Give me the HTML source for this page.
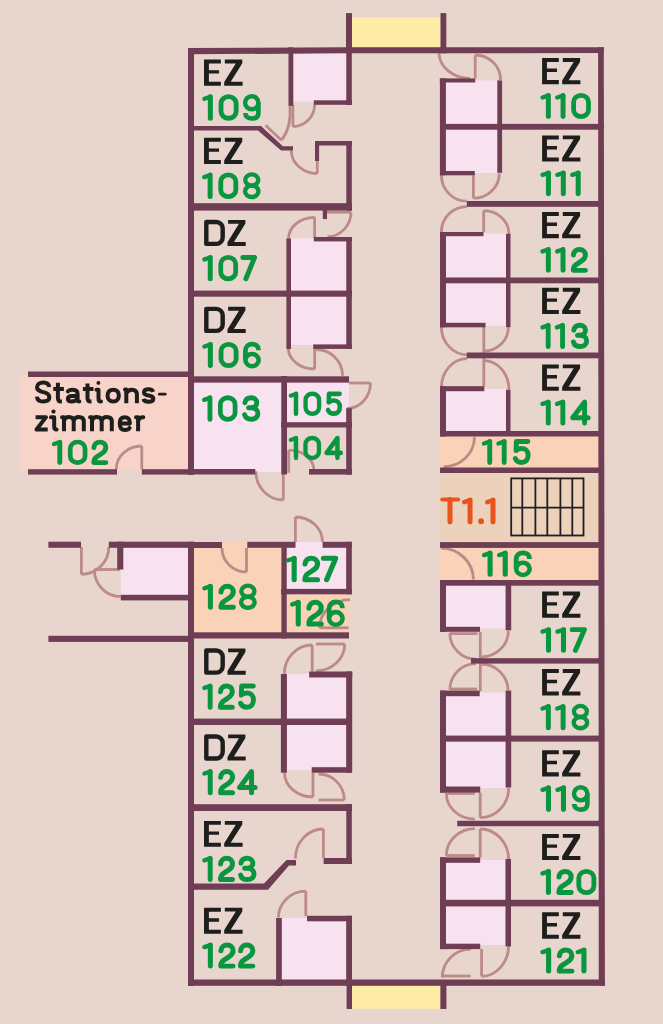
<!DOCTYPE html>
<html><head><meta charset="utf-8"><style>
html,body{margin:0;padding:0;background:#e8d5ce;overflow:hidden;}
svg{display:block;will-change:transform;}
</style></head><body>
<svg width="663" height="1024" viewBox="0 0 663 1024">
<rect x="0" y="0" width="663" height="1024" fill="#e8d5ce"/>
<rect x="352.00" y="17.40" width="88.50" height="30.10" fill="#fdeba6"/>
<rect x="352.00" y="985.80" width="88.40" height="23.00" fill="#fdeba6"/>
<rect x="19.40" y="374.80" width="169.10" height="94.70" fill="#f8d3ca"/>
<rect x="293.00" y="53.00" width="53.30" height="48.50" fill="#f8e2f0"/>
<rect x="291.00" y="238.50" width="55.30" height="52.30" fill="#f8e2f0"/>
<rect x="291.00" y="296.50" width="55.30" height="48.50" fill="#f8e2f0"/>
<rect x="194.00" y="382.60" width="87.50" height="86.70" fill="#f8e2f0"/>
<rect x="255.00" y="469.00" width="26.50" height="3.00" fill="#f8e2f0"/>
<rect x="287.00" y="382.60" width="59.20" height="39.80" fill="#f8e2f0"/>
<rect x="346.00" y="382.00" width="3.00" height="26.30" fill="#f8e2f0"/>
<rect x="286.70" y="542.00" width="59.50" height="47.00" fill="#f8e2f0"/>
<rect x="287.00" y="674.00" width="59.20" height="45.00" fill="#f8e2f0"/>
<rect x="287.00" y="725.00" width="59.20" height="45.00" fill="#f8e2f0"/>
<rect x="281.80" y="918.00" width="64.40" height="62.20" fill="#f8e2f0"/>
<rect x="120.80" y="547.80" width="67.20" height="47.20" fill="#f8e2f0"/>
<rect x="194.00" y="542.00" width="87.50" height="90.50" fill="#fad2b8"/>
<rect x="286.70" y="594.30" width="63.10" height="38.20" fill="#fad2b8"/>
<rect x="440.20" y="436.40" width="158.30" height="31.20" fill="#fad2b8"/>
<rect x="440.20" y="547.90" width="158.30" height="32.40" fill="#fad2b8"/>
<rect x="440.10" y="473.00" width="158.40" height="69.20" fill="#ecd2bb"/>
<rect x="446.00" y="80.50" width="51.50" height="43.70" fill="#f8e2f0"/>
<rect x="446.00" y="129.60" width="51.80" height="43.40" fill="#f8e2f0"/>
<rect x="446.00" y="233.50" width="60.20" height="44.10" fill="#f8e2f0"/>
<rect x="446.00" y="283.20" width="60.20" height="42.80" fill="#f8e2f0"/>
<rect x="446.00" y="389.00" width="60.20" height="42.00" fill="#f8e2f0"/>
<rect x="446.00" y="585.60" width="59.80" height="42.90" fill="#f8e2f0"/>
<rect x="446.00" y="692.40" width="59.80" height="43.30" fill="#f8e2f0"/>
<rect x="446.00" y="741.60" width="59.80" height="46.40" fill="#f8e2f0"/>
<rect x="446.00" y="860.00" width="59.70" height="39.90" fill="#f8e2f0"/>
<rect x="446.00" y="906.30" width="59.70" height="38.70" fill="#f8e2f0"/>
<g fill="none" stroke="#bc8b87" stroke-width="2.8">
<path d="M292.9,105 V126.7"/>
<path d="M292.9,126.7 A22 22 0 0 0 314.6,104.5"/>
<path d="M265.6,125.2 L281.4,140.2"/>
<path d="M281.4,140.2 C288,132 291,120 290,106"/>
<path d="M317.3,161 V173.4"/>
<path d="M291.3,150.5 A26 23 0 0 0 317.3,173.5"/>
<path d="M327,212.2 H351"/>
<path d="M351,212.2 A24 24.5 0 0 1 327.5,236.7"/>
<path d="M314.6,217.3 V238"/>
<path d="M314.6,217.3 A26 22 0 0 0 288.4,239.3"/>
<path d="M314.7,349 V369"/>
<path d="M314.7,369 A26.4 21 0 0 1 288.3,348"/>
<path d="M316.2,349.5 A26.4 26.2 0 0 1 342.6,375.7"/>
<path d="M349,383 H370.5"/>
<path d="M370.5,383 A23.5 25.5 0 0 1 347,408.5"/>
<path d="M288.7,450.2 V472.8"/>
<path d="M288.7,450.2 A25.2 20 0 0 1 313.9,470.2"/>
<path d="M283.3,474 V500"/>
<path d="M255.8,471.3 A27.5 28.7 0 0 0 283.3,500"/>
<path d="M141.8,446 V469"/>
<path d="M141.8,446 A25.5 23 0 0 0 116.3,469"/>
<path d="M81.4,547 V574.3"/>
<path d="M81.4,574.3 A27.4 27.3 0 0 0 108.8,547"/>
<path d="M94.3,569.5 H120"/>
<path d="M94.3,569.5 A26.5 27.2 0 0 0 120.8,596.7"/>
<path d="M246.5,548 V572"/>
<path d="M222,548 A24.5 24 0 0 0 246.5,572"/>
<path d="M295.4,517 V542"/>
<path d="M295.4,517 A27.1 25 0 0 1 322.5,542"/>
<path d="M319.6,627.8 H348.6"/>
<path d="M319.6,628 A30.4 28.3 0 0 1 350,599.7"/>
<path d="M312.2,645 V671.5"/>
<path d="M312.2,645 A27.9 28.7 0 0 0 284.3,673.7"/>
<path d="M316,644 H344.7"/>
<path d="M344.7,644 A28.7 27 0 0 1 316,671"/>
<path d="M313,772.7 V797"/>
<path d="M284.5,772.7 A28.5 24.3 0 0 0 313,797"/>
<path d="M318.5,800 H344.3"/>
<path d="M318.5,774 A25.8 26 0 0 1 344.3,800"/>
<path d="M323.4,829 V858"/>
<path d="M323.4,829 A28 29.5 0 0 0 295.4,858.5"/>
<path d="M305.8,891.2 V916"/>
<path d="M305.8,891.2 A27.4 26.4 0 0 0 278.4,917.6"/>
<path d="M439,52.7 A31 26 0 0 0 470,78.4"/>
<path d="M475.2,55 V78.4"/>
<path d="M475.2,55 A25.4 25 0 0 1 500.6,80"/>
<path d="M473.4,175.3 V198.2"/>
<path d="M499.3,173.4 A25.9 24.8 0 0 1 473.4,198.2"/>
<path d="M441.4,175.3 A25.4 26 0 0 0 466.8,201.2"/>
<path d="M466.8,206.6 A25.4 25.4 0 0 0 441.4,232"/>
<path d="M483.7,210.6 V232"/>
<path d="M483.7,210.6 A25.3 23.5 0 0 1 509,234"/>
<path d="M483.8,327 V386.2"/>
<path d="M508.4,327 A24.6 24.2 0 0 1 483.8,351.2"/>
<path d="M441.4,327 A26 27.8 0 0 0 467.4,354.8"/>
<path d="M467,358.7 A25.6 28.7 0 0 0 441.4,387.4"/>
<path d="M483.8,360.6 A25.2 29.2 0 0 1 509,389.8"/>
<path d="M474.5,436.9 A31 30 0 0 1 443.6,466.8"/>
<path d="M440.9,548.2 A32.5 31.3 0 0 1 473.4,579.5"/>
<path d="M480.3,632 V691.2"/>
<path d="M449.9,633.6 H477.6"/>
<path d="M449.9,633 A26 26 0 0 0 476,659.2"/>
<path d="M508.4,630.9 A27.2 26 0 0 1 481.2,656.8"/>
<path d="M449.9,689 H477"/>
<path d="M476,663.6 A26 26 0 0 0 449.9,689.6"/>
<path d="M481,664 A27 27 0 0 1 508.1,690.6"/>
<path d="M480.2,792.6 V817.7"/>
<path d="M508.7,788 A28.5 29.7 0 0 1 480.2,817.7"/>
<path d="M446.3,793.5 H474.8"/>
<path d="M446.3,793.3 A28.5 25.8 0 0 0 474.8,819.1"/>
<path d="M446.3,855.5 H474.8"/>
<path d="M474.8,828.6 A28.5 27.2 0 0 0 446.3,855.8"/>
<path d="M480.2,829 V857.4"/>
<path d="M480.2,829 A28.5 30.8 0 0 1 508.7,859.8"/>
<path d="M481.6,949 V976.3"/>
<path d="M508.7,945 A27.1 31.3 0 0 1 481.6,976.3"/>
<path d="M442.2,976 H470.7"/>
<path d="M470.7,949.1 A28.5 28.5 0 0 0 442.2,977.6"/>
</g>
<rect x="188.00" y="48.00" width="6.00" height="426.70" fill="#6f3e54"/>
<rect x="188.00" y="541.80" width="6.00" height="444.20" fill="#6f3e54"/>
<rect x="188.00" y="979.50" width="416.90" height="6.30" fill="#6f3e54"/>
<rect x="346.00" y="13.10" width="6.00" height="40.20" fill="#6f3e54"/>
<rect x="440.50" y="13.10" width="5.80" height="40.20" fill="#6f3e54"/>
<rect x="346.60" y="980.00" width="5.40" height="29.00" fill="#6f3e54"/>
<rect x="440.40" y="980.00" width="6.00" height="29.00" fill="#6f3e54"/>
<rect x="346.30" y="47.30" width="5.50" height="57.70" fill="#6f3e54"/>
<rect x="346.30" y="141.00" width="5.50" height="69.60" fill="#6f3e54"/>
<rect x="346.30" y="237.00" width="5.50" height="112.00" fill="#6f3e54"/>
<rect x="346.20" y="408.20" width="5.60" height="66.40" fill="#6f3e54"/>
<rect x="346.20" y="541.80" width="5.60" height="52.50" fill="#6f3e54"/>
<rect x="346.20" y="671.50" width="6.00" height="101.20" fill="#6f3e54"/>
<rect x="346.30" y="804.00" width="5.50" height="60.00" fill="#6f3e54"/>
<rect x="346.20" y="915.80" width="5.80" height="70.20" fill="#6f3e54"/>
<rect x="288.50" y="47.30" width="4.80" height="58.60" fill="#6f3e54"/>
<rect x="313.80" y="100.30" width="38.20" height="4.50" fill="#6f3e54"/>
<rect x="315.00" y="141.00" width="37.00" height="4.50" fill="#6f3e54"/>
<rect x="315.00" y="141.00" width="4.10" height="20.00" fill="#6f3e54"/>
<rect x="188.00" y="203.20" width="164.00" height="7.40" fill="#6f3e54"/>
<rect x="322.80" y="210.00" width="4.20" height="9.10" fill="#6f3e54"/>
<rect x="313.80" y="237.00" width="38.20" height="4.40" fill="#6f3e54"/>
<rect x="286.40" y="238.50" width="4.60" height="110.50" fill="#6f3e54"/>
<rect x="188.00" y="290.60" width="164.00" height="6.10" fill="#6f3e54"/>
<rect x="313.20" y="344.40" width="38.80" height="4.50" fill="#6f3e54"/>
<rect x="188.00" y="376.30" width="161.00" height="6.30" fill="#6f3e54"/>
<rect x="28.00" y="371.50" width="166.00" height="5.50" fill="#6f3e54"/>
<rect x="281.30" y="376.00" width="5.70" height="98.50" fill="#6f3e54"/>
<rect x="281.00" y="422.20" width="71.00" height="5.30" fill="#6f3e54"/>
<rect x="188.00" y="469.00" width="67.30" height="5.50" fill="#6f3e54"/>
<rect x="309.00" y="469.00" width="43.00" height="5.60" fill="#6f3e54"/>
<rect x="28.00" y="469.20" width="89.00" height="5.40" fill="#6f3e54"/>
<rect x="141.80" y="469.20" width="52.20" height="5.40" fill="#6f3e54"/>
<rect x="48.40" y="541.70" width="32.60" height="6.10" fill="#6f3e54"/>
<rect x="108.80" y="541.70" width="85.20" height="6.10" fill="#6f3e54"/>
<rect x="117.20" y="541.70" width="6.10" height="27.80" fill="#6f3e54"/>
<rect x="120.80" y="594.80" width="73.20" height="5.60" fill="#6f3e54"/>
<rect x="48.40" y="635.80" width="145.60" height="6.10" fill="#6f3e54"/>
<rect x="188.00" y="542.00" width="34.00" height="6.00" fill="#6f3e54"/>
<rect x="247.30" y="541.80" width="48.20" height="6.00" fill="#6f3e54"/>
<rect x="322.60" y="541.80" width="29.20" height="6.00" fill="#6f3e54"/>
<rect x="281.40" y="542.00" width="5.30" height="96.50" fill="#6f3e54"/>
<rect x="281.00" y="588.90" width="70.80" height="5.40" fill="#6f3e54"/>
<rect x="188.00" y="632.30" width="161.00" height="6.20" fill="#6f3e54"/>
<rect x="280.90" y="674.00" width="6.00" height="98.70" fill="#6f3e54"/>
<rect x="309.20" y="671.50" width="43.00" height="6.00" fill="#6f3e54"/>
<rect x="188.00" y="718.60" width="164.00" height="6.40" fill="#6f3e54"/>
<rect x="311.70" y="767.20" width="40.30" height="5.50" fill="#6f3e54"/>
<rect x="188.00" y="804.20" width="164.00" height="6.80" fill="#6f3e54"/>
<rect x="323.60" y="858.00" width="28.40" height="6.00" fill="#6f3e54"/>
<rect x="307.00" y="915.80" width="45.00" height="5.50" fill="#6f3e54"/>
<rect x="276.10" y="918.00" width="5.70" height="68.00" fill="#6f3e54"/>
<rect x="439.90" y="78.40" width="6.00" height="96.90" fill="#6f3e54"/>
<rect x="440.00" y="232.00" width="6.00" height="95.30" fill="#6f3e54"/>
<rect x="440.00" y="386.20" width="6.00" height="50.30" fill="#6f3e54"/>
<rect x="440.00" y="580.00" width="6.00" height="51.80" fill="#6f3e54"/>
<rect x="440.00" y="690.60" width="6.00" height="102.00" fill="#6f3e54"/>
<rect x="440.00" y="857.40" width="6.00" height="91.70" fill="#6f3e54"/>
<rect x="439.90" y="78.40" width="35.30" height="4.10" fill="#6f3e54"/>
<rect x="497.30" y="80.40" width="4.80" height="92.40" fill="#6f3e54"/>
<rect x="440.00" y="123.90" width="164.00" height="5.80" fill="#6f3e54"/>
<rect x="440.20" y="171.00" width="34.60" height="4.30" fill="#6f3e54"/>
<rect x="466.80" y="201.00" width="137.20" height="5.80" fill="#6f3e54"/>
<rect x="440.00" y="232.00" width="43.50" height="4.20" fill="#6f3e54"/>
<rect x="506.00" y="233.80" width="4.50" height="93.30" fill="#6f3e54"/>
<rect x="440.00" y="277.50" width="164.00" height="5.80" fill="#6f3e54"/>
<rect x="440.00" y="322.80" width="45.50" height="4.50" fill="#6f3e54"/>
<rect x="466.80" y="352.50" width="137.20" height="5.80" fill="#6f3e54"/>
<rect x="440.00" y="386.20" width="44.30" height="5.00" fill="#6f3e54"/>
<rect x="506.00" y="389.80" width="4.50" height="46.20" fill="#6f3e54"/>
<rect x="440.00" y="431.00" width="164.00" height="5.50" fill="#6f3e54"/>
<rect x="440.00" y="467.50" width="164.00" height="5.50" fill="#6f3e54"/>
<rect x="440.00" y="542.10" width="164.00" height="5.80" fill="#6f3e54"/>
<rect x="440.00" y="580.00" width="164.00" height="5.70" fill="#6f3e54"/>
<rect x="440.00" y="626.80" width="40.00" height="5.00" fill="#6f3e54"/>
<rect x="505.60" y="585.00" width="5.60" height="45.30" fill="#6f3e54"/>
<rect x="471.00" y="658.20" width="133.00" height="5.40" fill="#6f3e54"/>
<rect x="440.00" y="690.60" width="39.70" height="5.60" fill="#6f3e54"/>
<rect x="505.60" y="690.60" width="5.60" height="96.90" fill="#6f3e54"/>
<rect x="440.00" y="735.60" width="164.00" height="6.00" fill="#6f3e54"/>
<rect x="440.00" y="786.50" width="40.20" height="6.10" fill="#6f3e54"/>
<rect x="457.20" y="820.80" width="146.80" height="5.40" fill="#6f3e54"/>
<rect x="440.00" y="857.40" width="40.20" height="5.40" fill="#6f3e54"/>
<rect x="505.50" y="859.00" width="5.50" height="87.40" fill="#6f3e54"/>
<rect x="440.00" y="899.80" width="164.00" height="6.60" fill="#6f3e54"/>
<rect x="440.00" y="943.70" width="40.20" height="5.40" fill="#6f3e54"/>
<polygon points="188.00,48.10 346.00,47.30 603.80,47.20 603.80,53.10 346.00,53.30 188.00,54.30" fill="#6f3e54"/>
<polygon points="598.10,47.20 603.80,47.20 604.90,985.80 598.80,985.80" fill="#6f3e54"/>
<polygon points="188.00,125.90 261.00,125.90 282.90,146.30 293.00,146.30 293.00,150.50 281.00,150.50 258.00,130.40 188.00,130.40" fill="#6f3e54"/>
<polygon points="188.00,883.60 264.00,883.60 286.50,860.00 296.00,860.00 296.00,865.50 289.00,865.50 268.00,889.70 188.00,889.70" fill="#6f3e54"/>
<g fill="none" stroke="#231f20" stroke-width="1.8">
<rect x="511.2" y="478.4" width="72.3" height="57.1"/>
<path d="M511.2,507.6 H583.5 M522.3,478.4 V535.5 M535.4,478.4 V535.5 M547.3,478.4 V535.5 M560.4,478.4 V535.5 M572.3,478.4 V535.5"/>
</g>
<g font-family="Liberation Sans" font-weight="bold" font-size="100">
<g transform="matrix(1.01579 0 0 1.00000 204.000 59.600)" fill="#1e1e1c" stroke="#1e1e1c" stroke-linecap="round" stroke-linejoin="round"><g transform="translate(0.000 0)"><path d="M0,0 H16.6 V4.0 H4.8 V10.6 H14.8 V14.0 H4.8 V22.1 H16.6 V26.2 H0 Z" stroke="none"/></g><g transform="translate(19.900 0)"><path d="M0.6,0 H17.8 V3.7 L6.4,22.2 H18.1 V26.2 H0 V22.5 L11.4,3.9 H0.6 Z" stroke="none"/></g></g>
<g transform="matrix(1.00688 0 0 1.01145 202.200 94.200)" fill="#0a963f" stroke="#0a963f" stroke-linecap="round" stroke-linejoin="round"><g transform="translate(0.000 0)"><path d="M8.1,23.7 V2.5" fill="none" stroke-width="5.0"/><path d="M8.1,2.6 L2.2,4.5" fill="none" stroke-width="4.4"/></g><g transform="translate(16.300 0)"><path d="M9.9,2.4 A7.5 6.6 0 0 1 17.4,9.0 V17.2 A7.5 6.6 0 0 1 9.9,23.8 A7.5 6.6 0 0 1 2.4,17.2 V9.0 A7.5 6.6 0 0 1 9.9,2.4 Z" fill="none" stroke-width="4.8"/></g><g transform="translate(40.500 0)"><path d="M8.7,1.95 A6.6 6.45 0 1 1 8.7,14.85 A6.6 6.45 0 1 1 8.7,1.95 Z" fill="none" stroke-width="4.4"/><path d="M15.3,8.4 V18.5 C15.3,22.3 12.6,24.0 8.9,24.0 C5.2,24.0 2.35,22.4 2.35,18.5" fill="none" stroke-width="4.6" stroke-linecap="butt"/></g></g>
<g transform="matrix(1.01579 0 0 1.00000 204.000 137.800)" fill="#1e1e1c" stroke="#1e1e1c" stroke-linecap="round" stroke-linejoin="round"><g transform="translate(0.000 0)"><path d="M0,0 H16.6 V4.0 H4.8 V10.6 H14.8 V14.0 H4.8 V22.1 H16.6 V26.2 H0 Z" stroke="none"/></g><g transform="translate(19.900 0)"><path d="M0.6,0 H17.8 V3.7 L6.4,22.2 H18.1 V26.2 H0 V22.5 L11.4,3.9 H0.6 Z" stroke="none"/></g></g>
<g transform="matrix(1.00340 0 0 1.01145 202.000 172.500)" fill="#0a963f" stroke="#0a963f" stroke-linecap="round" stroke-linejoin="round"><g transform="translate(0.000 0)"><path d="M8.1,23.7 V2.5" fill="none" stroke-width="5.0"/><path d="M8.1,2.6 L2.2,4.5" fill="none" stroke-width="4.4"/></g><g transform="translate(16.300 0)"><path d="M9.9,2.4 A7.5 6.6 0 0 1 17.4,9.0 V17.2 A7.5 6.6 0 0 1 9.9,23.8 A7.5 6.6 0 0 1 2.4,17.2 V9.0 A7.5 6.6 0 0 1 9.9,2.4 Z" fill="none" stroke-width="4.8"/></g><g transform="translate(40.500 0)"><path d="M9.1,1.9 A6.5 5.55 0 1 1 9.1,13.0 A6.5 5.55 0 1 1 9.1,1.9 Z" fill="none" stroke-width="4.3"/><path d="M9.1,13.0 A6.7 5.65 0 1 1 9.1,24.3 A6.7 5.65 0 1 1 9.1,13.0 Z" fill="none" stroke-width="4.4"/></g></g>
<g transform="matrix(1.00482 0 0 0.99618 204.000 219.900)" fill="#1e1e1c" stroke="#1e1e1c" stroke-linecap="round" stroke-linejoin="round"><g transform="translate(0.000 0)"><path d="M2.3,2.1 H12.2 A6.4 6.4 0 0 1 18.6,8.5 V17.7 A6.4 6.4 0 0 1 12.2,24.1 H2.3 Z" fill="none" stroke-width="4.4"/></g><g transform="translate(23.400 0)"><path d="M0.6,0 H17.8 V3.7 L6.4,22.2 H18.1 V26.2 H0 V22.5 L11.4,3.9 H0.6 Z" stroke="none"/></g></g>
<g transform="matrix(0.99277 0 0 1.00382 202.200 254.900)" fill="#0a963f" stroke="#0a963f" stroke-linecap="round" stroke-linejoin="round"><g transform="translate(0.000 0)"><path d="M8.1,23.7 V2.5" fill="none" stroke-width="5.0"/><path d="M8.1,2.6 L2.2,4.5" fill="none" stroke-width="4.4"/></g><g transform="translate(16.300 0)"><path d="M9.9,2.4 A7.5 6.6 0 0 1 17.4,9.0 V17.2 A7.5 6.6 0 0 1 9.9,23.8 A7.5 6.6 0 0 1 2.4,17.2 V9.0 A7.5 6.6 0 0 1 9.9,2.4 Z" fill="none" stroke-width="4.8"/></g><g transform="translate(38.400 0)"><path d="M2.5,2.5 H14.4 L5.6,23.7" fill="none" stroke-width="5.0"/></g></g>
<g transform="matrix(1.00482 0 0 1.00000 204.000 306.800)" fill="#1e1e1c" stroke="#1e1e1c" stroke-linecap="round" stroke-linejoin="round"><g transform="translate(0.000 0)"><path d="M2.3,2.1 H12.2 A6.4 6.4 0 0 1 18.6,8.5 V17.7 A6.4 6.4 0 0 1 12.2,24.1 H2.3 Z" fill="none" stroke-width="4.4"/></g><g transform="translate(23.400 0)"><path d="M0.6,0 H17.8 V3.7 L6.4,22.2 H18.1 V26.2 H0 V22.5 L11.4,3.9 H0.6 Z" stroke="none"/></g></g>
<g transform="matrix(1.00684 0 0 0.99237 202.200 342.000)" fill="#0a963f" stroke="#0a963f" stroke-linecap="round" stroke-linejoin="round"><g transform="translate(0.000 0)"><path d="M8.1,23.7 V2.5" fill="none" stroke-width="5.0"/><path d="M8.1,2.6 L2.2,4.5" fill="none" stroke-width="4.4"/></g><g transform="translate(16.300 0)"><path d="M9.9,2.4 A7.5 6.6 0 0 1 17.4,9.0 V17.2 A7.5 6.6 0 0 1 9.9,23.8 A7.5 6.6 0 0 1 2.4,17.2 V9.0 A7.5 6.6 0 0 1 9.9,2.4 Z" fill="none" stroke-width="4.8"/></g><g transform="translate(40.500 0)"><path d="M15.4,8.3 V7.6 C15.4,4.3 12.8,2.2 9.2,2.2 C5.2,2.2 2.4,4.6 2.4,9 V18" fill="none" stroke-width="4.7" stroke-linecap="butt"/><path d="M9.0,12.1 A6.6 6.15 0 1 1 9.0,24.4 A6.6 6.15 0 1 1 9.0,12.1 Z" fill="none" stroke-width="4.5"/></g></g>
<g transform="matrix(0.98151 0 0 1.01145 202.000 395.300)" fill="#0a963f" stroke="#0a963f" stroke-linecap="round" stroke-linejoin="round"><g transform="translate(0.000 0)"><path d="M8.1,23.7 V2.5" fill="none" stroke-width="5.0"/><path d="M8.1,2.6 L2.2,4.5" fill="none" stroke-width="4.4"/></g><g transform="translate(16.300 0)"><path d="M9.9,2.4 A7.5 6.6 0 0 1 17.4,9.0 V17.2 A7.5 6.6 0 0 1 9.9,23.8 A7.5 6.6 0 0 1 2.4,17.2 V9.0 A7.5 6.6 0 0 1 9.9,2.4 Z" fill="none" stroke-width="4.8"/></g><g transform="translate(40.900 0)"><path d="M2.9,7.3 C3.4,4.4 5.8,2.5 9.0,2.5 C12.4,2.5 14.9,4.5 14.9,7.4 C14.9,10.4 12.5,12.4 9.0,12.4 H6.6 M9.0,12.4 C13.3,12.4 16.1,14.7 16.1,18.1 C16.1,21.5 13.3,23.7 9.3,23.7 C5.8,23.7 3.2,21.9 2.5,19.2" fill="none" stroke-width="5.0"/></g></g>
<g transform="matrix(0.90203 0 0 0.93511 288.700 391.500)" fill="#0a963f" stroke="#0a963f" stroke-linecap="round" stroke-linejoin="round"><g transform="translate(0.000 0)"><path d="M8.1,23.7 V2.5" fill="none" stroke-width="5.0"/><path d="M8.1,2.6 L2.2,4.5" fill="none" stroke-width="4.4"/></g><g transform="translate(16.300 0)"><path d="M9.9,2.4 A7.5 6.6 0 0 1 17.4,9.0 V17.2 A7.5 6.6 0 0 1 9.9,23.8 A7.5 6.6 0 0 1 2.4,17.2 V9.0 A7.5 6.6 0 0 1 9.9,2.4 Z" fill="none" stroke-width="4.8"/></g><g transform="translate(41.100 0)"><path d="M15.4,2.5 H3.6 L3.2,11.6 C4.9,10.3 7.0,9.6 9.3,9.6 C13.1,9.6 15.6,12.3 15.6,16.5 C15.6,20.9 12.9,23.7 9.0,23.7 C5.9,23.7 3.5,22.3 2.5,19.8" fill="none" stroke-width="5.0"/></g></g>
<g transform="matrix(0.89752 0 0 0.93511 288.700 435.700)" fill="#0a963f" stroke="#0a963f" stroke-linecap="round" stroke-linejoin="round"><g transform="translate(0.000 0)"><path d="M8.1,23.7 V2.5" fill="none" stroke-width="5.0"/><path d="M8.1,2.6 L2.2,4.5" fill="none" stroke-width="4.4"/></g><g transform="translate(16.300 0)"><path d="M9.9,2.4 A7.5 6.6 0 0 1 17.4,9.0 V17.2 A7.5 6.6 0 0 1 9.9,23.8 A7.5 6.6 0 0 1 2.4,17.2 V9.0 A7.5 6.6 0 0 1 9.9,2.4 Z" fill="none" stroke-width="4.8"/></g><g transform="translate(39.700 0)"><path d="M14.6,23.7 V2.5 L2.5,18.4 H18.3" fill="none" stroke-width="5.0"/></g></g>
<g transform="matrix(0.98604 0 0 0.96565 51.800 439.700)" fill="#0a963f" stroke="#0a963f" stroke-linecap="round" stroke-linejoin="round"><g transform="translate(0.000 0)"><path d="M8.1,23.7 V2.5" fill="none" stroke-width="5.0"/><path d="M8.1,2.6 L2.2,4.5" fill="none" stroke-width="4.4"/></g><g transform="translate(16.300 0)"><path d="M9.9,2.4 A7.5 6.6 0 0 1 17.4,9.0 V17.2 A7.5 6.6 0 0 1 9.9,23.8 A7.5 6.6 0 0 1 2.4,17.2 V9.0 A7.5 6.6 0 0 1 9.9,2.4 Z" fill="none" stroke-width="4.8"/></g><g transform="translate(40.100 0)"><path d="M2.6,8.2 C2.9,4.6 5.4,2.5 8.7,2.5 C12.2,2.5 14.7,4.7 14.7,8.1 C14.7,11 13.1,12.8 10.2,14.6 L5.6,17.6 C3.6,18.9 2.5,20.6 2.5,23.7 H14.7" fill="none" stroke-width="5.0"/></g></g>
<g transform="matrix(1.01287 0 0 0.99237 202.200 583.800)" fill="#0a963f" stroke="#0a963f" stroke-linecap="round" stroke-linejoin="round"><g transform="translate(0.000 0)"><path d="M8.1,23.7 V2.5" fill="none" stroke-width="5.0"/><path d="M8.1,2.6 L2.2,4.5" fill="none" stroke-width="4.4"/></g><g transform="translate(16.000 0)"><path d="M2.6,8.2 C2.9,4.6 5.4,2.5 8.7,2.5 C12.2,2.5 14.7,4.7 14.7,8.1 C14.7,11 13.1,12.8 10.2,14.6 L5.6,17.6 C3.6,18.9 2.5,20.6 2.5,23.7 H14.7" fill="none" stroke-width="5.0"/></g><g transform="translate(36.000 0)"><path d="M9.1,1.9 A6.5 5.55 0 1 1 9.1,13.0 A6.5 5.55 0 1 1 9.1,1.9 Z" fill="none" stroke-width="4.3"/><path d="M9.1,13.0 A6.7 5.65 0 1 1 9.1,24.3 A6.7 5.65 0 1 1 9.1,13.0 Z" fill="none" stroke-width="4.4"/></g></g>
<g transform="matrix(1.03346 0 0 1.01145 285.800 555.700)" fill="#0a963f" stroke="#0a963f" stroke-linecap="round" stroke-linejoin="round"><g transform="translate(0.000 0)"><path d="M8.1,23.7 V2.5" fill="none" stroke-width="5.0"/><path d="M8.1,2.6 L2.2,4.5" fill="none" stroke-width="4.4"/></g><g transform="translate(16.000 0)"><path d="M2.6,8.2 C2.9,4.6 5.4,2.5 8.7,2.5 C12.2,2.5 14.7,4.7 14.7,8.1 C14.7,11 13.1,12.8 10.2,14.6 L5.6,17.6 C3.6,18.9 2.5,20.6 2.5,23.7 H14.7" fill="none" stroke-width="5.0"/></g><g transform="translate(33.900 0)"><path d="M2.5,2.5 H14.4 L5.6,23.7" fill="none" stroke-width="5.0"/></g></g>
<g transform="matrix(1.01852 0 0 1.02672 290.000 599.700)" fill="#0a963f" stroke="#0a963f" stroke-linecap="round" stroke-linejoin="round"><g transform="translate(0.000 0)"><path d="M8.1,23.7 V2.5" fill="none" stroke-width="5.0"/><path d="M8.1,2.6 L2.2,4.5" fill="none" stroke-width="4.4"/></g><g transform="translate(16.000 0)"><path d="M2.6,8.2 C2.9,4.6 5.4,2.5 8.7,2.5 C12.2,2.5 14.7,4.7 14.7,8.1 C14.7,11 13.1,12.8 10.2,14.6 L5.6,17.6 C3.6,18.9 2.5,20.6 2.5,23.7 H14.7" fill="none" stroke-width="5.0"/></g><g transform="translate(36.000 0)"><path d="M15.4,8.3 V7.6 C15.4,4.3 12.8,2.2 9.2,2.2 C5.2,2.2 2.4,4.6 2.4,9 V18" fill="none" stroke-width="4.7" stroke-linecap="butt"/><path d="M9.0,12.1 A6.6 6.15 0 1 1 9.0,24.4 A6.6 6.15 0 1 1 9.0,12.1 Z" fill="none" stroke-width="4.5"/></g></g>
<g transform="matrix(1.00482 0 0 1.00382 204.000 648.400)" fill="#1e1e1c" stroke="#1e1e1c" stroke-linecap="round" stroke-linejoin="round"><g transform="translate(0.000 0)"><path d="M2.3,2.1 H12.2 A6.4 6.4 0 0 1 18.6,8.5 V17.7 A6.4 6.4 0 0 1 12.2,24.1 H2.3 Z" fill="none" stroke-width="4.4"/></g><g transform="translate(23.400 0)"><path d="M0.6,0 H17.8 V3.7 L6.4,22.2 H18.1 V26.2 H0 V22.5 L11.4,3.9 H0.6 Z" stroke="none"/></g></g>
<g transform="matrix(0.98172 0 0 1.00382 202.200 683.400)" fill="#0a963f" stroke="#0a963f" stroke-linecap="round" stroke-linejoin="round"><g transform="translate(0.000 0)"><path d="M8.1,23.7 V2.5" fill="none" stroke-width="5.0"/><path d="M8.1,2.6 L2.2,4.5" fill="none" stroke-width="4.4"/></g><g transform="translate(16.000 0)"><path d="M2.6,8.2 C2.9,4.6 5.4,2.5 8.7,2.5 C12.2,2.5 14.7,4.7 14.7,8.1 C14.7,11 13.1,12.8 10.2,14.6 L5.6,17.6 C3.6,18.9 2.5,20.6 2.5,23.7 H14.7" fill="none" stroke-width="5.0"/></g><g transform="translate(36.600 0)"><path d="M15.4,2.5 H3.6 L3.2,11.6 C4.9,10.3 7.0,9.6 9.3,9.6 C13.1,9.6 15.6,12.3 15.6,16.5 C15.6,20.9 12.9,23.7 9.0,23.7 C5.9,23.7 3.5,22.3 2.5,19.8" fill="none" stroke-width="5.0"/></g></g>
<g transform="matrix(1.00482 0 0 1.00000 204.000 734.400)" fill="#1e1e1c" stroke="#1e1e1c" stroke-linecap="round" stroke-linejoin="round"><g transform="translate(0.000 0)"><path d="M2.3,2.1 H12.2 A6.4 6.4 0 0 1 18.6,8.5 V17.7 A6.4 6.4 0 0 1 12.2,24.1 H2.3 Z" fill="none" stroke-width="4.4"/></g><g transform="translate(23.400 0)"><path d="M0.6,0 H17.8 V3.7 L6.4,22.2 H18.1 V26.2 H0 V22.5 L11.4,3.9 H0.6 Z" stroke="none"/></g></g>
<g transform="matrix(0.99107 0 0 1.00000 202.200 769.000)" fill="#0a963f" stroke="#0a963f" stroke-linecap="round" stroke-linejoin="round"><g transform="translate(0.000 0)"><path d="M8.1,23.7 V2.5" fill="none" stroke-width="5.0"/><path d="M8.1,2.6 L2.2,4.5" fill="none" stroke-width="4.4"/></g><g transform="translate(16.000 0)"><path d="M2.6,8.2 C2.9,4.6 5.4,2.5 8.7,2.5 C12.2,2.5 14.7,4.7 14.7,8.1 C14.7,11 13.1,12.8 10.2,14.6 L5.6,17.6 C3.6,18.9 2.5,20.6 2.5,23.7 H14.7" fill="none" stroke-width="5.0"/></g><g transform="translate(35.200 0)"><path d="M14.6,23.7 V2.5 L2.5,18.4 H18.3" fill="none" stroke-width="5.0"/></g></g>
<g transform="matrix(1.01579 0 0 0.98855 204.000 820.900)" fill="#1e1e1c" stroke="#1e1e1c" stroke-linecap="round" stroke-linejoin="round"><g transform="translate(0.000 0)"><path d="M0,0 H16.6 V4.0 H4.8 V10.6 H14.8 V14.0 H4.8 V22.1 H16.6 V26.2 H0 Z" stroke="none"/></g><g transform="translate(19.900 0)"><path d="M0.6,0 H17.8 V3.7 L6.4,22.2 H18.1 V26.2 H0 V22.5 L11.4,3.9 H0.6 Z" stroke="none"/></g></g>
<g transform="matrix(0.98727 0 0 1.00382 202.200 855.800)" fill="#0a963f" stroke="#0a963f" stroke-linecap="round" stroke-linejoin="round"><g transform="translate(0.000 0)"><path d="M8.1,23.7 V2.5" fill="none" stroke-width="5.0"/><path d="M8.1,2.6 L2.2,4.5" fill="none" stroke-width="4.4"/></g><g transform="translate(16.000 0)"><path d="M2.6,8.2 C2.9,4.6 5.4,2.5 8.7,2.5 C12.2,2.5 14.7,4.7 14.7,8.1 C14.7,11 13.1,12.8 10.2,14.6 L5.6,17.6 C3.6,18.9 2.5,20.6 2.5,23.7 H14.7" fill="none" stroke-width="5.0"/></g><g transform="translate(36.400 0)"><path d="M2.9,7.3 C3.4,4.4 5.8,2.5 9.0,2.5 C12.4,2.5 14.9,4.5 14.9,7.4 C14.9,10.4 12.5,12.4 9.0,12.4 H6.6 M9.0,12.4 C13.3,12.4 16.1,14.7 16.1,18.1 C16.1,21.5 13.3,23.7 9.3,23.7 C5.8,23.7 3.2,21.9 2.5,19.2" fill="none" stroke-width="5.0"/></g></g>
<g transform="matrix(1.01579 0 0 0.99618 204.000 907.700)" fill="#1e1e1c" stroke="#1e1e1c" stroke-linecap="round" stroke-linejoin="round"><g transform="translate(0.000 0)"><path d="M0,0 H16.6 V4.0 H4.8 V10.6 H14.8 V14.0 H4.8 V22.1 H16.6 V26.2 H0 Z" stroke="none"/></g><g transform="translate(19.900 0)"><path d="M0.6,0 H17.8 V3.7 L6.4,22.2 H18.1 V26.2 H0 V22.5 L11.4,3.9 H0.6 Z" stroke="none"/></g></g>
<g transform="matrix(1.00568 0 0 0.99237 202.200 942.600)" fill="#0a963f" stroke="#0a963f" stroke-linecap="round" stroke-linejoin="round"><g transform="translate(0.000 0)"><path d="M8.1,23.7 V2.5" fill="none" stroke-width="5.0"/><path d="M8.1,2.6 L2.2,4.5" fill="none" stroke-width="4.4"/></g><g transform="translate(16.000 0)"><path d="M2.6,8.2 C2.9,4.6 5.4,2.5 8.7,2.5 C12.2,2.5 14.7,4.7 14.7,8.1 C14.7,11 13.1,12.8 10.2,14.6 L5.6,17.6 C3.6,18.9 2.5,20.6 2.5,23.7 H14.7" fill="none" stroke-width="5.0"/></g><g transform="translate(35.600 0)"><path d="M2.6,8.2 C2.9,4.6 5.4,2.5 8.7,2.5 C12.2,2.5 14.7,4.7 14.7,8.1 C14.7,11 13.1,12.8 10.2,14.6 L5.6,17.6 C3.6,18.9 2.5,20.6 2.5,23.7 H14.7" fill="none" stroke-width="5.0"/></g></g>
<g transform="matrix(1.00789 0 0 1.00000 542.100 58.000)" fill="#1e1e1c" stroke="#1e1e1c" stroke-linecap="round" stroke-linejoin="round"><g transform="translate(0.000 0)"><path d="M0,0 H16.6 V4.0 H4.8 V10.6 H14.8 V14.0 H4.8 V22.1 H16.6 V26.2 H0 Z" stroke="none"/></g><g transform="translate(19.900 0)"><path d="M0.6,0 H17.8 V3.7 L6.4,22.2 H18.1 V26.2 H0 V22.5 L11.4,3.9 H0.6 Z" stroke="none"/></g></g>
<g transform="matrix(0.99411 0 0 0.98855 540.300 93.000)" fill="#0a963f" stroke="#0a963f" stroke-linecap="round" stroke-linejoin="round"><g transform="translate(0.000 0)"><path d="M8.1,23.7 V2.5" fill="none" stroke-width="5.0"/><path d="M8.1,2.6 L2.2,4.5" fill="none" stroke-width="4.4"/></g><g transform="translate(14.800 0)"><path d="M8.1,23.7 V2.5" fill="none" stroke-width="5.0"/><path d="M8.1,2.6 L2.2,4.5" fill="none" stroke-width="4.4"/></g><g transform="translate(31.100 0)"><path d="M9.9,2.4 A7.5 6.6 0 0 1 17.4,9.0 V17.2 A7.5 6.6 0 0 1 9.9,23.8 A7.5 6.6 0 0 1 2.4,17.2 V9.0 A7.5 6.6 0 0 1 9.9,2.4 Z" fill="none" stroke-width="4.8"/></g></g>
<g transform="matrix(1.00789 0 0 1.00000 542.100 135.400)" fill="#1e1e1c" stroke="#1e1e1c" stroke-linecap="round" stroke-linejoin="round"><g transform="translate(0.000 0)"><path d="M0,0 H16.6 V4.0 H4.8 V10.6 H14.8 V14.0 H4.8 V22.1 H16.6 V26.2 H0 Z" stroke="none"/></g><g transform="translate(19.900 0)"><path d="M0.6,0 H17.8 V3.7 L6.4,22.2 H18.1 V26.2 H0 V22.5 L11.4,3.9 H0.6 Z" stroke="none"/></g></g>
<g transform="matrix(1.00498 0 0 0.98855 540.300 170.400)" fill="#0a963f" stroke="#0a963f" stroke-linecap="round" stroke-linejoin="round"><g transform="translate(0.000 0)"><path d="M8.1,23.7 V2.5" fill="none" stroke-width="5.0"/><path d="M8.1,2.6 L2.2,4.5" fill="none" stroke-width="4.4"/></g><g transform="translate(14.800 0)"><path d="M8.1,23.7 V2.5" fill="none" stroke-width="5.0"/><path d="M8.1,2.6 L2.2,4.5" fill="none" stroke-width="4.4"/></g><g transform="translate(29.600 0)"><path d="M8.1,23.7 V2.5" fill="none" stroke-width="5.0"/><path d="M8.1,2.6 L2.2,4.5" fill="none" stroke-width="4.4"/></g></g>
<g transform="matrix(1.00789 0 0 1.00000 542.100 212.000)" fill="#1e1e1c" stroke="#1e1e1c" stroke-linecap="round" stroke-linejoin="round"><g transform="translate(0.000 0)"><path d="M0,0 H16.6 V4.0 H4.8 V10.6 H14.8 V14.0 H4.8 V22.1 H16.6 V26.2 H0 Z" stroke="none"/></g><g transform="translate(19.900 0)"><path d="M0.6,0 H17.8 V3.7 L6.4,22.2 H18.1 V26.2 H0 V22.5 L11.4,3.9 H0.6 Z" stroke="none"/></g></g>
<g transform="matrix(0.99167 0 0 0.98473 540.300 247.000)" fill="#0a963f" stroke="#0a963f" stroke-linecap="round" stroke-linejoin="round"><g transform="translate(0.000 0)"><path d="M8.1,23.7 V2.5" fill="none" stroke-width="5.0"/><path d="M8.1,2.6 L2.2,4.5" fill="none" stroke-width="4.4"/></g><g transform="translate(14.800 0)"><path d="M8.1,23.7 V2.5" fill="none" stroke-width="5.0"/><path d="M8.1,2.6 L2.2,4.5" fill="none" stroke-width="4.4"/></g><g transform="translate(30.800 0)"><path d="M2.6,8.2 C2.9,4.6 5.4,2.5 8.7,2.5 C12.2,2.5 14.7,4.7 14.7,8.1 C14.7,11 13.1,12.8 10.2,14.6 L5.6,17.6 C3.6,18.9 2.5,20.6 2.5,23.7 H14.7" fill="none" stroke-width="5.0"/></g></g>
<g transform="matrix(1.00789 0 0 1.00382 542.100 287.800)" fill="#1e1e1c" stroke="#1e1e1c" stroke-linecap="round" stroke-linejoin="round"><g transform="translate(0.000 0)"><path d="M0,0 H16.6 V4.0 H4.8 V10.6 H14.8 V14.0 H4.8 V22.1 H16.6 V26.2 H0 Z" stroke="none"/></g><g transform="translate(19.900 0)"><path d="M0.6,0 H17.8 V3.7 L6.4,22.2 H18.1 V26.2 H0 V22.5 L11.4,3.9 H0.6 Z" stroke="none"/></g></g>
<g transform="matrix(0.97211 0 0 1.00000 540.300 322.800)" fill="#0a963f" stroke="#0a963f" stroke-linecap="round" stroke-linejoin="round"><g transform="translate(0.000 0)"><path d="M8.1,23.7 V2.5" fill="none" stroke-width="5.0"/><path d="M8.1,2.6 L2.2,4.5" fill="none" stroke-width="4.4"/></g><g transform="translate(14.800 0)"><path d="M8.1,23.7 V2.5" fill="none" stroke-width="5.0"/><path d="M8.1,2.6 L2.2,4.5" fill="none" stroke-width="4.4"/></g><g transform="translate(31.600 0)"><path d="M2.9,7.3 C3.4,4.4 5.8,2.5 9.0,2.5 C12.4,2.5 14.9,4.5 14.9,7.4 C14.9,10.4 12.5,12.4 9.0,12.4 H6.6 M9.0,12.4 C13.3,12.4 16.1,14.7 16.1,18.1 C16.1,21.5 13.3,23.7 9.3,23.7 C5.8,23.7 3.2,21.9 2.5,19.2" fill="none" stroke-width="5.0"/></g></g>
<g transform="matrix(1.00789 0 0 1.00763 542.100 364.400)" fill="#1e1e1c" stroke="#1e1e1c" stroke-linecap="round" stroke-linejoin="round"><g transform="translate(0.000 0)"><path d="M0,0 H16.6 V4.0 H4.8 V10.6 H14.8 V14.0 H4.8 V22.1 H16.6 V26.2 H0 Z" stroke="none"/></g><g transform="translate(19.900 0)"><path d="M0.6,0 H17.8 V3.7 L6.4,22.2 H18.1 V26.2 H0 V22.5 L11.4,3.9 H0.6 Z" stroke="none"/></g></g>
<g transform="matrix(0.98438 0 0 1.00000 540.300 399.400)" fill="#0a963f" stroke="#0a963f" stroke-linecap="round" stroke-linejoin="round"><g transform="translate(0.000 0)"><path d="M8.1,23.7 V2.5" fill="none" stroke-width="5.0"/><path d="M8.1,2.6 L2.2,4.5" fill="none" stroke-width="4.4"/></g><g transform="translate(14.800 0)"><path d="M8.1,23.7 V2.5" fill="none" stroke-width="5.0"/><path d="M8.1,2.6 L2.2,4.5" fill="none" stroke-width="4.4"/></g><g transform="translate(30.400 0)"><path d="M14.6,23.7 V2.5 L2.5,18.4 H18.3" fill="none" stroke-width="5.0"/></g></g>
<g transform="matrix(0.97796 0 0 0.99237 481.800 439.000)" fill="#0a963f" stroke="#0a963f" stroke-linecap="round" stroke-linejoin="round"><g transform="translate(0.000 0)"><path d="M8.1,23.7 V2.5" fill="none" stroke-width="5.0"/><path d="M8.1,2.6 L2.2,4.5" fill="none" stroke-width="4.4"/></g><g transform="translate(14.800 0)"><path d="M8.1,23.7 V2.5" fill="none" stroke-width="5.0"/><path d="M8.1,2.6 L2.2,4.5" fill="none" stroke-width="4.4"/></g><g transform="translate(31.800 0)"><path d="M15.4,2.5 H3.6 L3.2,11.6 C4.9,10.3 7.0,9.6 9.3,9.6 C13.1,9.6 15.6,12.3 15.6,16.5 C15.6,20.9 12.9,23.7 9.0,23.7 C5.9,23.7 3.5,22.3 2.5,19.8" fill="none" stroke-width="5.0"/></g></g>
<g transform="matrix(0.99819 0 0 1.01908 440.300 497.600)" fill="#e8531f" stroke="#e8531f" stroke-linecap="round" stroke-linejoin="round"><g transform="translate(0.000 0)"><path d="M1.9,1.9 H18.0" fill="none" stroke-width="3.8"/><path d="M9.7,1.9 V23.7" fill="none" stroke-width="5.0"/></g><g transform="translate(21.700 0)"><path d="M8.1,23.7 V2.5" fill="none" stroke-width="5.0"/><path d="M8.1,2.6 L2.2,4.5" fill="none" stroke-width="4.4"/></g><g transform="translate(37.900 0)"><path d="M2.95,20.3 A2.95 2.95 0 1 1 2.95,26.2 A2.95 2.95 0 1 1 2.95,20.3 Z" stroke="none"/></g><g transform="translate(44.700 0)"><path d="M8.1,23.7 V2.5" fill="none" stroke-width="5.0"/><path d="M8.1,2.6 L2.2,4.5" fill="none" stroke-width="4.4"/></g></g>
<g transform="matrix(1.02236 0 0 1.00000 481.800 550.600)" fill="#0a963f" stroke="#0a963f" stroke-linecap="round" stroke-linejoin="round"><g transform="translate(0.000 0)"><path d="M8.1,23.7 V2.5" fill="none" stroke-width="5.0"/><path d="M8.1,2.6 L2.2,4.5" fill="none" stroke-width="4.4"/></g><g transform="translate(14.800 0)"><path d="M8.1,23.7 V2.5" fill="none" stroke-width="5.0"/><path d="M8.1,2.6 L2.2,4.5" fill="none" stroke-width="4.4"/></g><g transform="translate(31.200 0)"><path d="M15.4,8.3 V7.6 C15.4,4.3 12.8,2.2 9.2,2.2 C5.2,2.2 2.4,4.6 2.4,9 V18" fill="none" stroke-width="4.7" stroke-linecap="butt"/><path d="M9.0,12.1 A6.6 6.15 0 1 1 9.0,24.4 A6.6 6.15 0 1 1 9.0,12.1 Z" fill="none" stroke-width="4.5"/></g></g>
<g transform="matrix(1.00789 0 0 1.00000 542.100 591.600)" fill="#1e1e1c" stroke="#1e1e1c" stroke-linecap="round" stroke-linejoin="round"><g transform="translate(0.000 0)"><path d="M0,0 H16.6 V4.0 H4.8 V10.6 H14.8 V14.0 H4.8 V22.1 H16.6 V26.2 H0 Z" stroke="none"/></g><g transform="translate(19.900 0)"><path d="M0.6,0 H17.8 V3.7 L6.4,22.2 H18.1 V26.2 H0 V22.5 L11.4,3.9 H0.6 Z" stroke="none"/></g></g>
<g transform="matrix(1.01304 0 0 0.97710 540.300 627.200)" fill="#0a963f" stroke="#0a963f" stroke-linecap="round" stroke-linejoin="round"><g transform="translate(0.000 0)"><path d="M8.1,23.7 V2.5" fill="none" stroke-width="5.0"/><path d="M8.1,2.6 L2.2,4.5" fill="none" stroke-width="4.4"/></g><g transform="translate(14.800 0)"><path d="M8.1,23.7 V2.5" fill="none" stroke-width="5.0"/><path d="M8.1,2.6 L2.2,4.5" fill="none" stroke-width="4.4"/></g><g transform="translate(29.100 0)"><path d="M2.5,2.5 H14.4 L5.6,23.7" fill="none" stroke-width="5.0"/></g></g>
<g transform="matrix(1.00789 0 0 1.01527 542.100 669.000)" fill="#1e1e1c" stroke="#1e1e1c" stroke-linecap="round" stroke-linejoin="round"><g transform="translate(0.000 0)"><path d="M0,0 H16.6 V4.0 H4.8 V10.6 H14.8 V14.0 H4.8 V22.1 H16.6 V26.2 H0 Z" stroke="none"/></g><g transform="translate(19.900 0)"><path d="M0.6,0 H17.8 V3.7 L6.4,22.2 H18.1 V26.2 H0 V22.5 L11.4,3.9 H0.6 Z" stroke="none"/></g></g>
<g transform="matrix(0.99597 0 0 1.00000 540.300 704.000)" fill="#0a963f" stroke="#0a963f" stroke-linecap="round" stroke-linejoin="round"><g transform="translate(0.000 0)"><path d="M8.1,23.7 V2.5" fill="none" stroke-width="5.0"/><path d="M8.1,2.6 L2.2,4.5" fill="none" stroke-width="4.4"/></g><g transform="translate(14.800 0)"><path d="M8.1,23.7 V2.5" fill="none" stroke-width="5.0"/><path d="M8.1,2.6 L2.2,4.5" fill="none" stroke-width="4.4"/></g><g transform="translate(31.200 0)"><path d="M9.1,1.9 A6.5 5.55 0 1 1 9.1,13.0 A6.5 5.55 0 1 1 9.1,1.9 Z" fill="none" stroke-width="4.3"/><path d="M9.1,13.0 A6.7 5.65 0 1 1 9.1,24.3 A6.7 5.65 0 1 1 9.1,13.0 Z" fill="none" stroke-width="4.4"/></g></g>
<g transform="matrix(1.00789 0 0 0.99618 542.100 750.300)" fill="#1e1e1c" stroke="#1e1e1c" stroke-linecap="round" stroke-linejoin="round"><g transform="translate(0.000 0)"><path d="M0,0 H16.6 V4.0 H4.8 V10.6 H14.8 V14.0 H4.8 V22.1 H16.6 V26.2 H0 Z" stroke="none"/></g><g transform="translate(19.900 0)"><path d="M0.6,0 H17.8 V3.7 L6.4,22.2 H18.1 V26.2 H0 V22.5 L11.4,3.9 H0.6 Z" stroke="none"/></g></g>
<g transform="matrix(1.01230 0 0 1.01527 540.300 785.200)" fill="#0a963f" stroke="#0a963f" stroke-linecap="round" stroke-linejoin="round"><g transform="translate(0.000 0)"><path d="M8.1,23.7 V2.5" fill="none" stroke-width="5.0"/><path d="M8.1,2.6 L2.2,4.5" fill="none" stroke-width="4.4"/></g><g transform="translate(14.800 0)"><path d="M8.1,23.7 V2.5" fill="none" stroke-width="5.0"/><path d="M8.1,2.6 L2.2,4.5" fill="none" stroke-width="4.4"/></g><g transform="translate(31.200 0)"><path d="M8.7,1.95 A6.6 6.45 0 1 1 8.7,14.85 A6.6 6.45 0 1 1 8.7,1.95 Z" fill="none" stroke-width="4.4"/><path d="M15.3,8.4 V18.5 C15.3,22.3 12.6,24.0 8.9,24.0 C5.2,24.0 2.35,22.4 2.35,18.5" fill="none" stroke-width="4.6" stroke-linecap="butt"/></g></g>
<g transform="matrix(1.00789 0 0 0.99618 542.100 833.900)" fill="#1e1e1c" stroke="#1e1e1c" stroke-linecap="round" stroke-linejoin="round"><g transform="translate(0.000 0)"><path d="M0,0 H16.6 V4.0 H4.8 V10.6 H14.8 V14.0 H4.8 V22.1 H16.6 V26.2 H0 Z" stroke="none"/></g><g transform="translate(19.900 0)"><path d="M0.6,0 H17.8 V3.7 L6.4,22.2 H18.1 V26.2 H0 V22.5 L11.4,3.9 H0.6 Z" stroke="none"/></g></g>
<g transform="matrix(1.00539 0 0 0.99618 540.300 868.900)" fill="#0a963f" stroke="#0a963f" stroke-linecap="round" stroke-linejoin="round"><g transform="translate(0.000 0)"><path d="M8.1,23.7 V2.5" fill="none" stroke-width="5.0"/><path d="M8.1,2.6 L2.2,4.5" fill="none" stroke-width="4.4"/></g><g transform="translate(16.000 0)"><path d="M2.6,8.2 C2.9,4.6 5.4,2.5 8.7,2.5 C12.2,2.5 14.7,4.7 14.7,8.1 C14.7,11 13.1,12.8 10.2,14.6 L5.6,17.6 C3.6,18.9 2.5,20.6 2.5,23.7 H14.7" fill="none" stroke-width="5.0"/></g><g transform="translate(35.900 0)"><path d="M9.9,2.4 A7.5 6.6 0 0 1 17.4,9.0 V17.2 A7.5 6.6 0 0 1 9.9,23.8 A7.5 6.6 0 0 1 2.4,17.2 V9.0 A7.5 6.6 0 0 1 9.9,2.4 Z" fill="none" stroke-width="4.8"/></g></g>
<g transform="matrix(1.00789 0 0 1.01145 542.100 912.300)" fill="#1e1e1c" stroke="#1e1e1c" stroke-linecap="round" stroke-linejoin="round"><g transform="translate(0.000 0)"><path d="M0,0 H16.6 V4.0 H4.8 V10.6 H14.8 V14.0 H4.8 V22.1 H16.6 V26.2 H0 Z" stroke="none"/></g><g transform="translate(19.900 0)"><path d="M0.6,0 H17.8 V3.7 L6.4,22.2 H18.1 V26.2 H0 V22.5 L11.4,3.9 H0.6 Z" stroke="none"/></g></g>
<g transform="matrix(1.02667 0 0 0.99237 540.300 947.600)" fill="#0a963f" stroke="#0a963f" stroke-linecap="round" stroke-linejoin="round"><g transform="translate(0.000 0)"><path d="M8.1,23.7 V2.5" fill="none" stroke-width="5.0"/><path d="M8.1,2.6 L2.2,4.5" fill="none" stroke-width="4.4"/></g><g transform="translate(16.000 0)"><path d="M2.6,8.2 C2.9,4.6 5.4,2.5 8.7,2.5 C12.2,2.5 14.7,4.7 14.7,8.1 C14.7,11 13.1,12.8 10.2,14.6 L5.6,17.6 C3.6,18.9 2.5,20.6 2.5,23.7 H14.7" fill="none" stroke-width="5.0"/></g><g transform="translate(34.400 0)"><path d="M8.1,23.7 V2.5" fill="none" stroke-width="5.0"/><path d="M8.1,2.6 L2.2,4.5" fill="none" stroke-width="4.4"/></g></g>
</g>
<g fill="none" stroke="#1e1e1c" stroke-width="4.0" stroke-linejoin="round">
<path stroke-linecap="round" d="M67.9,391.4 C68.8,390.1 70.7,389.75 72.6,389.75 C75.9,389.75 77.6,391.2 77.6,394.0 V399.5 C77.6,400.9 78.4,401.55 79.3,401.55 M77.6,395.9 H72.3 C69.4,395.9 67.85,397.1 67.85,398.8 C67.85,400.6 69.3,401.55 71.5,401.55 C74.3,401.55 76.6,400.3 77.6,398.3 M96.5,389.75 H98.5 V398.4 C98.5,400.6 99.4,401.55 100.9,401.55 H101.0 M113.2,389.65 C116.7,389.65 118.85,391.9 118.85,395.6 C118.85,399.3 116.7,401.55 113.2,401.55 C109.7,401.55 107.55,399.3 107.55,395.6 C107.55,391.9 109.7,389.65 113.2,389.65 Z M125.0,389.6 H126.3 M50.95,417.15 H54.2 V426.5 C54.2,428.6 55.1,429.55 56.6,429.55 M62.05,417.2 H64 M90.05,417.2 H92.0 M129.75,423.5 V422.3 C129.75,419.0 127.7,417.15 124.75,417.15 C121.6,417.15 119.75,419.3 119.75,423.5 C119.75,427.8 121.7,430.05 124.9,430.05 C127.3,430.05 128.9,429.2 129.6,427.9 M136.0,417.15 H138.1 M138.1,421 C138.9,418.4 140.6,417.15 143.0,417.15 H143.3"/>
<path stroke-linecap="butt" d="M49.3,387.0 C48.9,384.3 46.6,382.45 43.3,382.45 C39.5,382.45 37.0,384.5 37.0,387.3 C37.0,390.4 39.6,391.3 43.2,392.1 C47.0,392.9 49.35,394.3 49.35,397.3 C49.35,400.1 46.8,401.55 43.1,401.55 C39.5,401.55 37.2,399.7 36.95,396.6 M57.9,382.8 V398.0 C57.9,400.6 58.9,401.55 61.0,401.55 H61.9 M53.3,388.9 H63.9 M87.5,383.4 V398.0 C87.5,400.6 88.5,401.55 90.6,401.55 H91.5 M82.9,388.9 H93.5 M126.3,389.0 V403.3 M126.3,393.5 C127.3,391 129.3,389.65 131.8,389.65 C135.0,389.65 136.9,391.5 136.9,394.6 V403.3 M153.2,391.9 C152.6,390.1 150.9,389.15 148.6,389.15 C145.7,389.15 143.95,390.5 143.95,392.4 C143.95,394.4 145.8,395.0 148.6,395.5 C151.6,396.0 153.35,396.9 153.35,398.8 C153.35,400.7 151.4,401.75 148.5,401.75 C145.7,401.75 143.9,400.7 143.4,398.9 M35.6,417.15 H46.0 L36.5,429.55 H47.7 M64,416.5 V431.3 M64,420.5 C64.8,418.2 66.4,417.05 68.7,417.05 C72.0,417.05 73.7,418.8 73.7,421.5 V431.3 M73.7,420.5 C74.5,418.2 76.2,417.05 78.6,417.05 C82.1,417.05 83.8,418.8 83.8,421.5 V431.3 M92.0,416.5 V431.3 M92.0,420.5 C92.8,418.2 94.4,417.05 96.7,417.05 C100.0,417.05 101.7,418.8 101.7,421.5 V431.3 M101.7,420.5 C102.5,418.2 104.2,417.05 106.6,417.05 C110.1,417.05 111.8,418.8 111.8,421.5 V431.3 M119.75,423.5 H129.75 M138.1,416.5 V431.3"/>
<path stroke-linecap="round" stroke-width="2.9" d="M159.4,394.15 H165.1"/>
</g>
<circle cx="98.4" cy="382.9" r="1.95" fill="#1e1e1c"/>
<circle cx="53.5" cy="411.55" r="2.1" fill="#1e1e1c"/>
</svg>
</body></html>
